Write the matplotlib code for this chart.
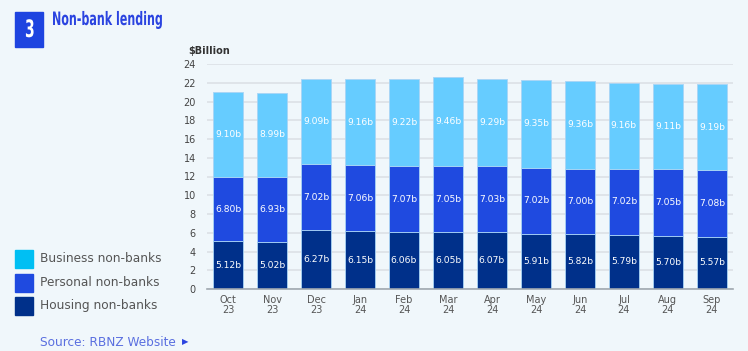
import matplotlib.pyplot as plt
from matplotlib.patches import Rectangle, PathPatch
from matplotlib.textpath import TextPath
from matplotlib.font_manager import FontProperties
from matplotlib.transforms import Affine2D
import numpy as np

months = ['Oct\n23', 'Nov\n23', 'Dec\n23', 'Jan\n24', 'Feb\n24', 'Mar\n24',
          'Apr\n24', 'May\n24', 'Jun\n24', 'Jul\n24', 'Aug\n24', 'Sep\n24']
housing = [5.12, 5.02, 6.27, 6.15, 6.06, 6.05, 6.07, 5.91, 5.82, 5.79, 5.70, 5.57]
personal = [6.80, 6.93, 7.02, 7.06, 7.07, 7.05, 7.03, 7.02, 7.00, 7.02, 7.05, 7.08]
business = [9.10, 8.99, 9.09, 9.16, 9.22, 9.46, 9.29, 9.35, 9.36, 9.16, 9.11, 9.19]

bg = '#F0F7FB'
c_house = '#00308A'
c_pers = '#1F4AE0'
c_bus = '#66CCFF'
c_bus_leg = '#00BFF3'

W, H = 748, 351
fig = plt.figure(figsize=(W / 100, H / 100), dpi=100)
fig.patch.set_facecolor(bg)
ax = fig.add_axes([207 / W, 1 - 289 / H, 526 / W, 225 / H])
ax.set_facecolor(bg)

x = np.arange(len(months))
h = np.array(housing)
p = np.array(personal)
b = np.array(business)
w = 0.68
edge = dict(edgecolor='#A9D4F5', linewidth=0.6)
ax.bar(x, h, w, color=c_house, zorder=3, **edge)
ax.bar(x, p, w, bottom=h, color=c_pers, zorder=3, **edge)
ax.bar(x, b, w, bottom=h + p, color=c_bus, zorder=3, **edge)

lab = dict(ha='center', va='center', color='white', fontsize=6.6, zorder=4)
for i in range(len(x)):
    ax.text(x[i], h[i] / 2, f'{h[i]:.2f}b', **lab)
    ax.text(x[i], h[i] + p[i] / 2, f'{p[i]:.2f}b', **lab)
    ax.text(x[i], h[i] + p[i] + b[i] / 2, f'{b[i]:.2f}b', **lab)

ax.set_xlim(-0.48, 11.48)
ax.set_ylim(0, 24)
ax.set_yticks(range(0, 25, 2))
ax.set_xticks(x)
ax.set_xticklabels(months, fontsize=7, color='#555555', linespacing=1.0)
ax.tick_params(axis='y', labelsize=7, colors='#444444', length=0, pad=8)
ax.tick_params(axis='x', length=0, pad=4)
ax.grid(axis='y', color='#DCE1E6', linewidth=1.2, zorder=0)
for s in ['top', 'right', 'left']:
    ax.spines[s].set_visible(False)
ax.spines['bottom'].set_color('#A0A8B0')
ax.spines['bottom'].set_linewidth(1.2)
ax.spines['bottom'].set_zorder(5)

fig.text(188 / W, 1 - 51 / H, '$Billion', fontsize=7, fontweight='bold',
         color='#333333', va='center', ha='left')


def squeezed_text(s, x_px, y_px, size, sx, color):
    # condensed look: draw text as a path and squeeze it horizontally
    fp = FontProperties(family='DejaVu Sans', weight='bold')
    tp = TextPath((0, 0), s, size=size, prop=fp)
    tr = Affine2D().scale(sx, 1).translate(x_px, H - y_px)
    fig.patches.append(PathPatch(tp, transform=tr, color=color, lw=0))


# title block
fig.patches.append(Rectangle((15 / W, 1 - 47 / H), 28 / W, 35 / H,
                             transform=fig.transFigure, color='#1E44E0'))
squeezed_text('3', 25, 37, 24, 0.58, 'white')
squeezed_text('Non-bank lending', 52, 25, 18.5, 0.6, '#2B44E0')

# legend
leg_items = [('Business non-banks', c_bus_leg), ('Personal non-banks', c_pers),
             ('Housing non-banks', c_house)]
for k, (name, col) in enumerate(leg_items):
    y0 = 250 + k * 23.5
    fig.patches.append(Rectangle((15 / W, 1 - (y0 + 18) / H), 18 / W, 18 / H,
                                 transform=fig.transFigure, color=col))
    fig.text(40 / W, 1 - (y0 + 9) / H, name, fontsize=8.7, color='#555555',
             ha='left', va='center')

fig.text(40 / W, 1 - 343 / H, 'Source: RBNZ Website', fontsize=8.7,
         color='#5A6FE0', ha='left', va='center')
fig.text(182 / W, 1 - 342 / H, '\u25B6', fontsize=6, color='#2B44E0',
         ha='left', va='center')

fig.savefig('out.png', dpi=100, facecolor=bg)
